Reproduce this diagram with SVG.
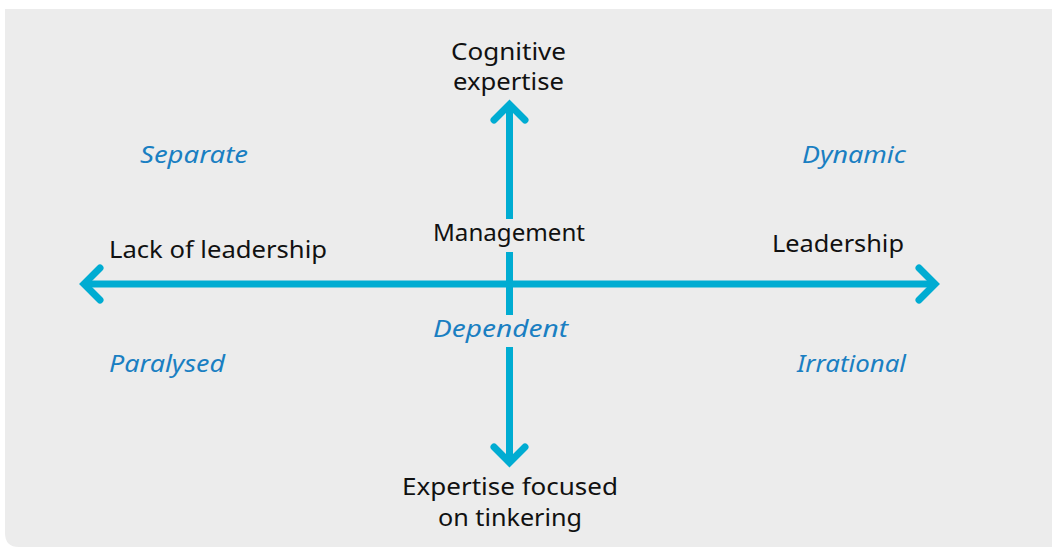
<svg xmlns="http://www.w3.org/2000/svg" width="1052" height="548" viewBox="0 0 1052 548">
<style>
.lbl{font-family:"Noto Sans",Lato,sans-serif;font-size:24px;fill:#111;font-variant-ligatures:none}
.q{font-family:"Noto Sans",Lato,sans-serif;font-size:24px;font-style:italic;fill:#1a7fc2;font-variant-ligatures:none}
.ax{stroke:#00acd2;stroke-width:7;fill:none;stroke-linecap:butt}
.hd{stroke:#00acd2;stroke-width:7;fill:none;stroke-linecap:round;stroke-linejoin:miter}
</style>
<rect width="1052" height="548" fill="#ffffff"/>
<path d="M5 9 H1052 V547 H19 Q5 547 5 533 Z" fill="#ececec"/>
<g id="connectors">
<line class="ax" x1="83" y1="284" x2="935" y2="284"/>
<line class="ax" x1="509.5" y1="104" x2="509.5" y2="219"/>
<line class="ax" x1="509.5" y1="252" x2="509.5" y2="315"/>
<line class="ax" x1="509.5" y1="347" x2="509.5" y2="462"/>
<polyline class="hd" points="100,268 84,284 100,300"/>
<polyline class="hd" points="919,268 935,284 919,300"/>
<polyline class="hd" points="494,120 509.5,104.5 525,120"/>
<polyline class="hd" points="494,447 509.5,462.5 525,447"/>
</g>
<g id="node-cognitive"><text class="lbl" x="451" y="60" textLength="115" lengthAdjust="spacingAndGlyphs">Cognitive</text><text class="lbl" x="453" y="90" textLength="111" lengthAdjust="spacingAndGlyphs">expertise</text></g>
<g id="node-separate"><text class="q" x="140" y="163" textLength="108" lengthAdjust="spacingAndGlyphs">Separate</text></g>
<g id="node-dynamic"><text class="q" x="802" y="163" textLength="104" lengthAdjust="spacingAndGlyphs">Dynamic</text></g>
<g id="node-lack"><text class="lbl" x="109" y="258" textLength="218" lengthAdjust="spacingAndGlyphs">Lack of leadership</text></g>
<g id="node-management"><text class="lbl" x="433" y="241" textLength="152" lengthAdjust="spacingAndGlyphs">Management</text></g>
<g id="node-leadership"><text class="lbl" x="772" y="252" textLength="132" lengthAdjust="spacingAndGlyphs">Leadership</text></g>
<g id="node-dependent"><text class="q" x="433" y="337" textLength="135" lengthAdjust="spacingAndGlyphs">Dependent</text></g>
<g id="node-paralysed"><text class="q" x="109" y="372" textLength="116" lengthAdjust="spacingAndGlyphs">Paralysed</text></g>
<g id="node-irrational"><text class="q" x="797" y="372" textLength="109" lengthAdjust="spacingAndGlyphs">Irrational</text></g>
<g id="node-expertise"><text class="lbl" x="402" y="495" textLength="216" lengthAdjust="spacingAndGlyphs">Expertise focused</text><text class="lbl" x="438" y="526" textLength="144" lengthAdjust="spacingAndGlyphs">on tinkering</text></g>
</svg>
